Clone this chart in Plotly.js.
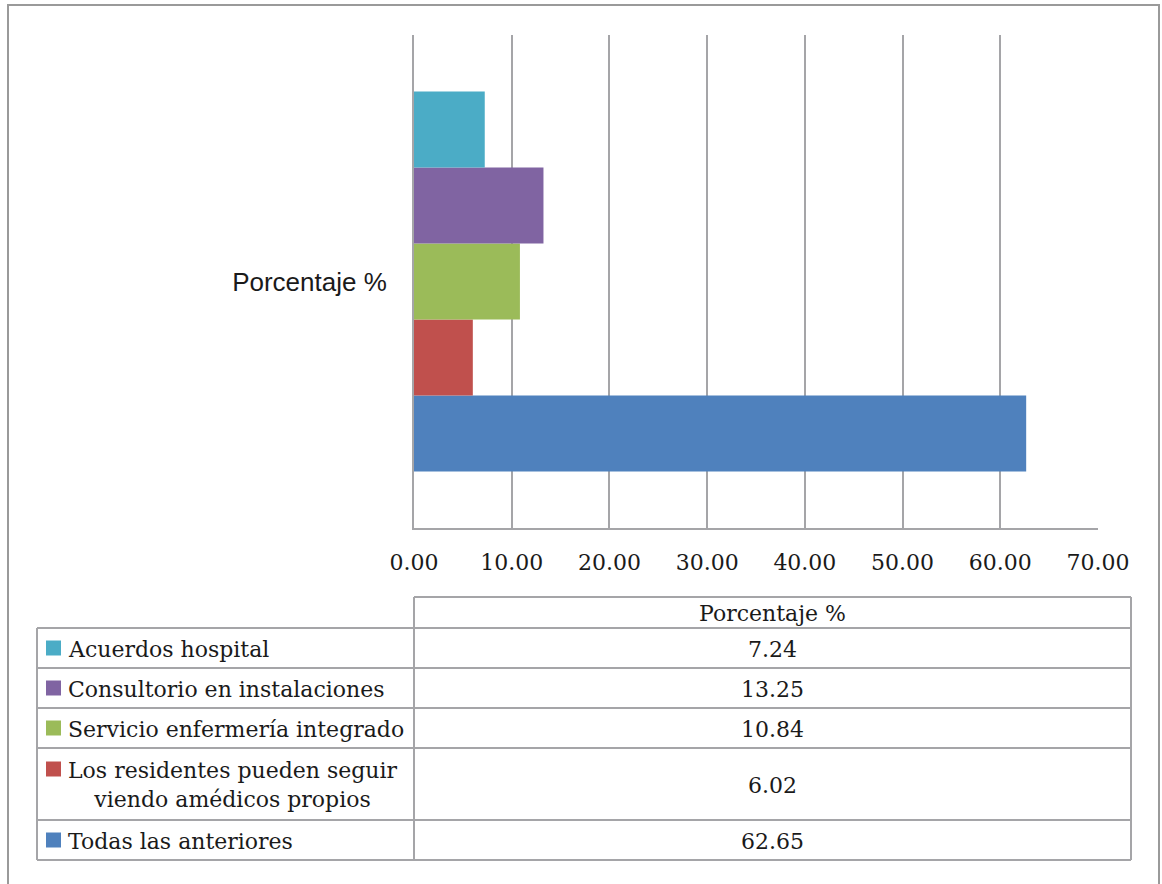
<!DOCTYPE html>
<html>
<head>
<meta charset="utf-8">
<script src="https://cdn.plot.ly/plotly-3.0.1.min.js"></script>
<style>html,body{margin:0;padding:0;background:#fff;}#chart{width:1162px;height:884px;}</style>
</head>
<body>
<div id="chart"></div>
<script>
// ---- data (table order, top to bottom) ----
const category = ["Porcentaje %"];
const seriesNames = [
  "Acuerdos hospital",
  "Consultorio en instalaciones",
  "Servicio enfermería integrado",
  "Los residentes pueden seguir<br>viendo amédicos propios",
  "Todas las anteriores"
];
const seriesValues = [7.24, 13.25, 10.84, 6.02, 62.65];
const seriesColors = ["#4BACC6", "#8064A2", "#9BBB59", "#C0504D", "#4F81BD"];
const xTickValues = [0, 10, 20, 30, 40, 50, 60, 70];

// ---- geometry helpers (pixel -> paper) ----
const W = 1162, H = 884;
const ML = 414, MR = 64, MT = 35, MB = 356;
const PW = W - ML - MR, PH = H - MT - MB;
const px = x => (x - ML) / PW;
const py = y => (H - MB - y) / PH;

const gray = "#A5A5A8";
const serif = "DejaVu Serif, Liberation Serif, serif";
const textColor = "#1a1a1a";

// traces: Plotly puts first trace at the bottom of a horizontal group, so reverse
const traces = [];
for (let i = seriesNames.length - 1; i >= 0; i--) {
  traces.push({
    type: "bar",
    orientation: "h",
    y: category,
    x: [seriesValues[i]],
    name: seriesNames[i],
    marker: {color: seriesColors[i]},
    hoverinfo: "x+name"
  });
}

// ---- table (shapes + annotations) ----
const shapes = [];
const annotations = [];
function hline(x0, x1, y) {
  shapes.push({type: "line", xref: "paper", yref: "paper", x0: px(x0), x1: px(x1), y0: py(y), y1: py(y), line: {color: gray, width: 2}});
}
function vline(x, y0, y1) {
  shapes.push({type: "line", xref: "paper", yref: "paper", x0: px(x), x1: px(x), y0: py(y0), y1: py(y1), line: {color: gray, width: 2}});
}
// outer frame
shapes.push({type: "rect", xref: "paper", yref: "paper", x0: px(8), x1: px(1159), y0: py(5), y1: py(900), line: {color: "#9a9a9a", width: 2}, fillcolor: "rgba(0,0,0,0)", layer: "below"});

const tLeft = 37, tMid = 414, tRight = 1131, tHeadTop = 597;
const rowEdges = [628, 668, 708, 748, 820, 860];
hline(tMid, tRight, tHeadTop);
for (let i = 0; i < rowEdges.length; i++) hline(tLeft, tRight, rowEdges[i]);
vline(tLeft, rowEdges[0], rowEdges[rowEdges.length - 1]);
vline(tMid, tHeadTop, rowEdges[rowEdges.length - 1]);
vline(tRight, tHeadTop, rowEdges[rowEdges.length - 1]);

const fs = 22;
const valX = (tMid + tRight) / 2;
annotations.push({xref: "paper", yref: "paper", x: px(valX), y: py((tHeadTop + rowEdges[0]) / 2 + 1), text: category[0], showarrow: false, xanchor: "center", yanchor: "middle", font: {family: serif, size: fs, color: textColor}});

for (let i = 0; i < seriesNames.length; i++) {
  const top = rowEdges[i], bot = rowEdges[i + 1];
  const mid = (top + bot) / 2;
  const twoLine = seriesNames[i].indexOf("<br>") >= 0;
  const firstLineY = twoLine ? top + 21 : mid;
  shapes.push({type: "rect", xref: "paper", yref: "paper", x0: px(46), x1: px(61), y0: py(firstLineY - 7.5), y1: py(firstLineY + 7.5), line: {width: 0}, fillcolor: seriesColors[i]});
  annotations.push({xref: "paper", yref: "paper", x: px(66), y: py(mid + 1), text: seriesNames[i], showarrow: false, xanchor: "left", yanchor: "middle", align: "center", font: {family: serif, size: fs, color: textColor}});
  annotations.push({xref: "paper", yref: "paper", x: px(valX), y: py(mid + 1), text: seriesValues[i].toFixed(2), showarrow: false, xanchor: "center", yanchor: "middle", font: {family: serif, size: fs, color: textColor}});
}

const layout = {
  width: W, height: H,
  margin: {l: ML, r: MR, t: MT, b: MB, pad: 0},
  paper_bgcolor: "#ffffff",
  plot_bgcolor: "#ffffff",
  barmode: "group",
  bargap: 0.229,
  bargroupgap: 0,
  showlegend: false,
  xaxis: {
    range: [0, 70],
    tickvals: xTickValues,
    tickformat: ".2f",
    showgrid: true, gridcolor: gray, gridwidth: 2,
    showline: true, linecolor: gray, linewidth: 2,
    zeroline: false,
    ticks: "",
    ticklabelstandoff: 14,
    tickfont: {family: serif, size: 22, color: textColor},
    fixedrange: true
  },
  yaxis: {
    type: "category",
    showgrid: false,
    showline: true, linecolor: gray, linewidth: 2,
    zeroline: false,
    ticks: "",
    ticklabelstandoff: 20,
    tickfont: {family: "Liberation Sans, Arial, sans-serif", size: 26, color: textColor},
    fixedrange: true
  },
  shapes: shapes,
  annotations: annotations
};

Plotly.newPlot("chart", traces, layout, {displayModeBar: false, staticPlot: true});
</script>
</body>
</html>
